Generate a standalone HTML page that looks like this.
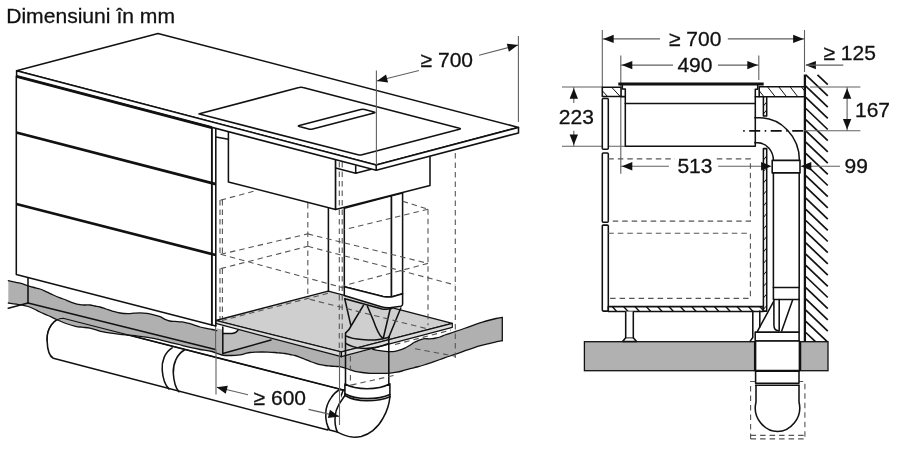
<!DOCTYPE html>
<html><head><meta charset="utf-8"><title>Dimensiuni</title>
<style>
html,body{margin:0;padding:0;background:#fff;}
body{width:900px;height:450px;overflow:hidden;font-family:"Liberation Sans",sans-serif;}
svg{display:block;will-change:transform;}
svg text{font-family:"Liberation Sans",sans-serif;fill:#111;stroke:#111;stroke-width:0.3;}
.m{stroke:#111;stroke-width:1.55;fill:none;stroke-linecap:round;stroke-linejoin:round;}
.w{stroke:#111;stroke-width:1.55;fill:#fff;stroke-linejoin:round;}
.wn{stroke:#111;stroke-width:1.55;fill:none;stroke-linejoin:round;stroke-linecap:round;}
.k{stroke:#111;stroke-width:2.8;fill:none;stroke-linecap:butt;}
.t{stroke:#606060;stroke-width:1.1;fill:none;}
.a{fill:#111;stroke:none;}
.d{stroke:#555;stroke-width:1.1;fill:none;stroke-dasharray:5.5 4;}
.h{stroke:#111;stroke-width:1.7;fill:none;}
.hh{stroke:#111;stroke-width:1;fill:none;}
.hb{stroke:#111;stroke-width:1.4;fill:none;}
.wall{stroke:#111;stroke-width:2.3;fill:none;}
.fl{fill:#b0b0b0;stroke:#111;stroke-width:1.2;stroke-linejoin:round;}
.fr{fill:#b1b1b1;stroke:#111;stroke-width:1.3;}
.fln{fill:#b0b0b0;stroke:none;}
.pl{fill:#cfcfcf;stroke:#111;stroke-width:1.3;stroke-linejoin:round;}
.pl2{fill:#dcdcdc;stroke:#111;stroke-width:1.2;stroke-linejoin:round;}
.cd{stroke:#111;stroke-width:1.7;fill:none;stroke-dasharray:1.5 4.5 11 4.5;}
</style></head>
<body>
<svg width="900" height="450" viewBox="0 0 900 450">
<rect x="0" y="0" width="900" height="450" fill="#fff"/>
<text x="6.2" y="23" font-size="21.1" text-anchor="start">Dimensiuni în mm</text>
<path class="w" d="M63.1,318.3 C54,318.3 46.5,328 47.1,340.6 C47.4,350 50,356.5 53.3,358.3 L327.8,430 L343.3,390 Z" />
<path class="wn" d="M172.2,347.8 C165,352 161.5,361 162.2,370 C162.8,378 165.5,385.5 168.9,388.9" />
<path class="wn" d="M184.4,350 C177,354 172.8,364 173.3,373.3 C173.8,381.5 176,388.5 178.9,391.8" />
<path class="fln" d="M8.3,280.7 C9.58,280.97 13.72,281.80 16,282.3 C18.28,282.80 20.00,283.12 22,283.7 C24.00,284.28 26.00,285.17 28,285.8 C30.00,286.43 32.00,286.97 34,287.5 C36.00,288.03 37.92,288.28 40,289 C42.08,289.72 44.28,290.80 46.5,291.8 C48.72,292.80 51.05,294.00 53.3,295 C55.55,296.00 57.77,296.92 60,297.8 C62.23,298.68 64.53,299.47 66.7,300.3 C68.87,301.13 70.78,302.07 73,302.8 C75.22,303.53 78.00,304.33 80,304.7 C82.00,305.07 83.33,304.95 85,305 C86.67,305.05 88.33,304.83 90,305 C91.67,305.17 93.33,305.67 95,306 C96.67,306.33 98.17,306.50 100,307 C101.83,307.50 103.83,308.28 106,309 C108.17,309.72 110.67,310.63 113,311.3 C115.33,311.97 117.50,312.62 120,313 C122.50,313.38 125.67,313.57 128,313.6 C130.33,313.63 132.00,313.32 134,313.2 C136.00,313.08 137.83,312.88 140,312.9 C142.17,312.92 144.70,312.98 147,313.3 C149.30,313.62 151.63,314.23 153.8,314.8 C155.97,315.37 158.13,315.95 160,316.7 C161.87,317.45 163.37,318.58 165,319.3 C166.63,320.02 168.13,320.65 169.8,321 C171.47,321.35 172.93,321.25 175,321.4 C177.07,321.55 180.03,321.60 182.2,321.9 C184.37,322.20 185.87,322.63 188,323.2 C190.13,323.77 193.00,324.67 195,325.3 C197.00,325.93 198.33,326.52 200,327 C201.67,327.48 203.00,327.78 205,328.2 C207.00,328.62 210.05,329.10 212,329.5 C213.95,329.90 215.92,330.42 216.7,330.6 L215.8,323.4 L341.3,356.7 L372.7,349.3 C373.92,349.52 377.45,350.22 380,350.6 C382.55,350.98 385.50,351.48 388,351.6 C390.50,351.72 392.67,351.68 395,351.3 C397.33,350.92 400.17,349.93 402,349.3 C403.83,348.67 404.67,348.17 406,347.5 C407.33,346.83 408.67,346.13 410,345.3 C411.33,344.47 412.67,343.27 414,342.5 C415.33,341.73 416.75,341.22 418,340.7 C419.25,340.18 420.33,339.73 421.5,339.4 C422.67,339.07 423.83,338.80 425,338.7 C426.17,338.60 427.33,338.80 428.5,338.8 C429.67,338.80 430.75,338.83 432,338.7 C433.25,338.57 434.67,338.28 436,338 C437.33,337.72 438.50,337.50 440,337 C441.50,336.50 443.33,335.62 445,335 C446.67,334.38 448.33,333.85 450,333.3 C451.67,332.75 453.33,332.25 455,331.7 C456.67,331.15 457.92,330.73 460,330 C462.08,329.27 465.00,328.18 467.5,327.3 C470.00,326.42 472.50,325.55 475,324.7 C477.50,323.85 480.00,322.98 482.5,322.2 C485.00,321.42 487.75,320.62 490,320 C492.25,319.38 493.95,318.95 496,318.5 C498.05,318.05 501.25,317.50 502.3,317.3 L502.3,340.7 C501.25,340.88 498.05,341.37 496,341.8 C493.95,342.23 492.25,342.73 490,343.3 C487.75,343.87 485.00,344.53 482.5,345.2 C480.00,345.87 477.50,346.52 475,347.3 C472.50,348.08 470.00,349.00 467.5,349.9 C465.00,350.80 462.08,351.95 460,352.7 C457.92,353.45 456.67,353.85 455,354.4 C453.33,354.95 451.67,355.45 450,356 C448.33,356.55 446.67,357.12 445,357.7 C443.33,358.28 442.17,358.73 440,359.5 C437.83,360.27 434.67,361.38 432,362.3 C429.33,363.22 426.50,364.22 424,365 C421.50,365.78 419.33,366.38 417,367 C414.67,367.62 412.50,368.03 410,368.7 C407.50,369.37 404.50,370.38 402,371 C399.50,371.62 397.00,372.05 395,372.4 C393.00,372.75 391.67,372.95 390,373.1 C388.33,373.25 387.17,373.25 385,373.3 C382.83,373.35 379.50,373.40 377,373.4 C374.50,373.40 372.50,373.45 370,373.3 C367.50,373.15 364.50,372.83 362,372.5 C359.50,372.17 357.00,371.77 355,371.3 C353.00,370.83 351.67,370.25 350,369.7 C348.33,369.15 346.67,368.50 345,368 C343.33,367.50 341.67,366.97 340,366.7 C338.33,366.43 336.67,366.52 335,366.4 C333.33,366.28 331.67,366.15 330,366 C328.33,365.85 326.67,365.72 325,365.5 C323.33,365.28 321.67,365.08 320,364.7 C318.33,364.32 316.67,363.77 315,363.2 C313.33,362.63 311.67,361.95 310,361.3 C308.33,360.65 306.67,359.97 305,359.3 C303.33,358.63 301.67,357.93 300,357.3 C298.33,356.67 296.67,355.97 295,355.5 C293.33,355.03 291.67,354.83 290,354.5 C288.33,354.17 286.67,353.75 285,353.5 C283.33,353.25 281.67,353.17 280,353 C278.33,352.83 277.00,352.65 275,352.5 C273.00,352.35 270.17,352.18 268,352.1 C265.83,352.02 264.00,352.00 262,352 C260.00,352.00 258.00,352.02 256,352.1 C254.00,352.18 251.83,352.23 250,352.5 C248.17,352.77 246.67,353.32 245,353.7 C243.33,354.08 242.33,354.50 240,354.8 C237.67,355.10 234.00,355.47 231,355.5 C228.00,355.53 225.17,355.67 222,355 C218.83,354.33 215.67,352.42 212,351.5 C208.33,350.58 203.48,350.13 200,349.5 C196.52,348.87 194.10,348.40 191.1,347.7 C188.10,347.00 184.97,346.05 182,345.3 C179.03,344.55 176.30,343.95 173.3,343.2 C170.30,342.45 166.95,341.53 164,340.8 C161.05,340.07 158.60,339.40 155.6,338.8 C152.60,338.20 148.97,337.65 146,337.2 C143.03,336.75 140.63,336.43 137.8,336.1 C134.97,335.77 131.97,335.50 129,335.2 C126.03,334.90 123.00,334.63 120,334.3 C117.00,333.97 113.97,333.63 111,333.2 C108.03,332.77 104.70,332.27 102.2,331.7 C99.70,331.13 98.07,330.40 96,329.8 C93.93,329.20 92.13,328.53 89.8,328.1 C87.47,327.67 84.37,327.50 82,327.2 C79.63,326.90 78.27,326.92 75.6,326.3 C72.93,325.68 68.97,324.55 66,323.5 C63.03,322.45 60.80,321.33 57.8,320 C54.80,318.67 50.97,316.83 48,315.5 C45.03,314.17 42.33,313.08 40,312 C37.67,310.92 36.00,309.92 34,309 C32.00,308.08 30.33,307.22 28,306.5 C25.67,305.78 23.28,305.28 20,304.7 C16.72,304.12 10.25,303.28 8.3,303 Z" />
<path class="wn" d="M8.3,280.7 C9.58,280.97 13.72,281.80 16,282.3 C18.28,282.80 20.00,283.12 22,283.7 C24.00,284.28 26.00,285.17 28,285.8 C30.00,286.43 32.00,286.97 34,287.5 C36.00,288.03 37.92,288.28 40,289 C42.08,289.72 44.28,290.80 46.5,291.8 C48.72,292.80 51.05,294.00 53.3,295 C55.55,296.00 57.77,296.92 60,297.8 C62.23,298.68 64.53,299.47 66.7,300.3 C68.87,301.13 70.78,302.07 73,302.8 C75.22,303.53 78.00,304.33 80,304.7 C82.00,305.07 83.33,304.95 85,305 C86.67,305.05 88.33,304.83 90,305 C91.67,305.17 93.33,305.67 95,306 C96.67,306.33 98.17,306.50 100,307 C101.83,307.50 103.83,308.28 106,309 C108.17,309.72 110.67,310.63 113,311.3 C115.33,311.97 117.50,312.62 120,313 C122.50,313.38 125.67,313.57 128,313.6 C130.33,313.63 132.00,313.32 134,313.2 C136.00,313.08 137.83,312.88 140,312.9 C142.17,312.92 144.70,312.98 147,313.3 C149.30,313.62 151.63,314.23 153.8,314.8 C155.97,315.37 158.13,315.95 160,316.7 C161.87,317.45 163.37,318.58 165,319.3 C166.63,320.02 168.13,320.65 169.8,321 C171.47,321.35 172.93,321.25 175,321.4 C177.07,321.55 180.03,321.60 182.2,321.9 C184.37,322.20 185.87,322.63 188,323.2 C190.13,323.77 193.00,324.67 195,325.3 C197.00,325.93 198.33,326.52 200,327 C201.67,327.48 203.00,327.78 205,328.2 C207.00,328.62 210.05,329.10 212,329.5 C213.95,329.90 215.92,330.42 216.7,330.6" style="stroke-width:1.3"/>
<path class="wn" d="M372.7,349.3 C373.92,349.52 377.45,350.22 380,350.6 C382.55,350.98 385.50,351.48 388,351.6 C390.50,351.72 392.67,351.68 395,351.3 C397.33,350.92 400.17,349.93 402,349.3 C403.83,348.67 404.67,348.17 406,347.5 C407.33,346.83 408.67,346.13 410,345.3 C411.33,344.47 412.67,343.27 414,342.5 C415.33,341.73 416.75,341.22 418,340.7 C419.25,340.18 420.33,339.73 421.5,339.4 C422.67,339.07 423.83,338.80 425,338.7 C426.17,338.60 427.33,338.80 428.5,338.8 C429.67,338.80 430.75,338.83 432,338.7 C433.25,338.57 434.67,338.28 436,338 C437.33,337.72 438.50,337.50 440,337 C441.50,336.50 443.33,335.62 445,335 C446.67,334.38 448.33,333.85 450,333.3 C451.67,332.75 453.33,332.25 455,331.7 C456.67,331.15 457.92,330.73 460,330 C462.08,329.27 465.00,328.18 467.5,327.3 C470.00,326.42 472.50,325.55 475,324.7 C477.50,323.85 480.00,322.98 482.5,322.2 C485.00,321.42 487.75,320.62 490,320 C492.25,319.38 493.95,318.95 496,318.5 C498.05,318.05 501.25,317.50 502.3,317.3" style="stroke-width:1.3"/>
<path class="wn" d="M502.3,340.7 C501.25,340.88 498.05,341.37 496,341.8 C493.95,342.23 492.25,342.73 490,343.3 C487.75,343.87 485.00,344.53 482.5,345.2 C480.00,345.87 477.50,346.52 475,347.3 C472.50,348.08 470.00,349.00 467.5,349.9 C465.00,350.80 462.08,351.95 460,352.7 C457.92,353.45 456.67,353.85 455,354.4 C453.33,354.95 451.67,355.45 450,356 C448.33,356.55 446.67,357.12 445,357.7 C443.33,358.28 442.17,358.73 440,359.5 C437.83,360.27 434.67,361.38 432,362.3 C429.33,363.22 426.50,364.22 424,365 C421.50,365.78 419.33,366.38 417,367 C414.67,367.62 412.50,368.03 410,368.7 C407.50,369.37 404.50,370.38 402,371 C399.50,371.62 397.00,372.05 395,372.4 C393.00,372.75 391.67,372.95 390,373.1 C388.33,373.25 387.17,373.25 385,373.3 C382.83,373.35 379.50,373.40 377,373.4 C374.50,373.40 372.50,373.45 370,373.3 C367.50,373.15 364.50,372.83 362,372.5 C359.50,372.17 357.00,371.77 355,371.3 C353.00,370.83 351.67,370.25 350,369.7 C348.33,369.15 346.67,368.50 345,368 C343.33,367.50 341.67,366.97 340,366.7 C338.33,366.43 336.67,366.52 335,366.4 C333.33,366.28 331.67,366.15 330,366 C328.33,365.85 326.67,365.72 325,365.5 C323.33,365.28 321.67,365.08 320,364.7 C318.33,364.32 316.67,363.77 315,363.2 C313.33,362.63 311.67,361.95 310,361.3 C308.33,360.65 306.67,359.97 305,359.3 C303.33,358.63 301.67,357.93 300,357.3 C298.33,356.67 296.67,355.97 295,355.5 C293.33,355.03 291.67,354.83 290,354.5 C288.33,354.17 286.67,353.75 285,353.5 C283.33,353.25 281.67,353.17 280,353 C278.33,352.83 277.00,352.65 275,352.5 C273.00,352.35 270.17,352.18 268,352.1 C265.83,352.02 264.00,352.00 262,352 C260.00,352.00 258.00,352.02 256,352.1 C254.00,352.18 251.83,352.23 250,352.5 C248.17,352.77 246.67,353.32 245,353.7 C243.33,354.08 242.33,354.50 240,354.8 C237.67,355.10 234.00,355.47 231,355.5 C228.00,355.53 225.17,355.67 222,355 C218.83,354.33 215.67,352.42 212,351.5 C208.33,350.58 203.48,350.13 200,349.5 C196.52,348.87 194.10,348.40 191.1,347.7 C188.10,347.00 184.97,346.05 182,345.3 C179.03,344.55 176.30,343.95 173.3,343.2 C170.30,342.45 166.95,341.53 164,340.8 C161.05,340.07 158.60,339.40 155.6,338.8 C152.60,338.20 148.97,337.65 146,337.2 C143.03,336.75 140.63,336.43 137.8,336.1 C134.97,335.77 131.97,335.50 129,335.2 C126.03,334.90 123.00,334.63 120,334.3 C117.00,333.97 113.97,333.63 111,333.2 C108.03,332.77 104.70,332.27 102.2,331.7 C99.70,331.13 98.07,330.40 96,329.8 C93.93,329.20 92.13,328.53 89.8,328.1 C87.47,327.67 84.37,327.50 82,327.2 C79.63,326.90 78.27,326.92 75.6,326.3 C72.93,325.68 68.97,324.55 66,323.5 C63.03,322.45 60.80,321.33 57.8,320 C54.80,318.67 50.97,316.83 48,315.5 C45.03,314.17 42.33,313.08 40,312 C37.67,310.92 36.00,309.92 34,309 C32.00,308.08 30.33,307.22 28,306.5 C25.67,305.78 23.28,305.28 20,304.7 C16.72,304.12 10.25,303.28 8.3,303" style="stroke-width:1.3"/>
<line class="m" x1="502.3" y1="317.3" x2="502.3" y2="340.7" style="stroke-width:1.3"/>
<line class="m" x1="28" y1="303" x2="215.5" y2="349.5" />
<line class="m" x1="8.3" y1="308.3" x2="28" y2="303" />
<line class="m" x1="28" y1="277.7" x2="28" y2="303" />
<polygon class="fln" points="222.8,324 271,337.5 271,340 222.8,353.5" style="fill:#bebebe"/>
<path class="fln" d="M215.8,322.5 L238.5,329 C237.5,331.5 236,333 232,333.6 L222.8,333.5 L222.8,329.5 L215.8,328.2 Z" style="fill:#fff"/>
<path class="wn" d="M222.8,333.5 L232,333.6 C236,333 237.5,331.5 238.5,329" />
<line class="m" x1="222.8" y1="327" x2="222.8" y2="353.5" />
<line class="m" x1="222.8" y1="353.5" x2="271" y2="340" />
<line class="t" x1="215.6" y1="326.5" x2="215.6" y2="350" />
<path class="wn" d="M47.1,340.6 C46.5,328 54,318.3 63.1,318.3 L343.3,390" style="stroke-width:1.1"/>
<polygon class="pl" points="215.8,320.5 328.2,291.1 452.3,323.3 341.3,352" />
<polygon class="pl2" points="215.8,320.5 341.3,352 452.3,323.3 452.3,327.3 341.3,356.7 215.8,323.4" />
<line class="m" x1="341.3" y1="352" x2="341.3" y2="356.7" />
<polygon class="w" points="344.3,208.2 391.5,195.7 391.5,296.9 383,296.4 344.3,286.7" />
<polygon class="w" points="391.5,195.7 402.6,192.9 402.6,293.8 391.5,296.9" />
<line class="m" x1="328.4" y1="208" x2="328.4" y2="291" />
<path class="w" d="M344.3,286.7 L383,296.4 Q387,297.3 391.5,296.9 L402.6,293.8 L402.6,304.3 Q402.6,305.6 401,306.2 L391.5,307.6 Q386,308.3 381.2,306.7 L344.3,295.6 Z" />
<path class="wn" d="M344.8,298.7 L382.1,308.9 Q387,309.6 391.9,308.4" />
<path class="wn" d="M344.8,299 L351,326.1 M363.4,305.3 L354.6,320 L351,326.1 C349.5,329.5 347.5,331.5 345.7,332.8 M367.4,306.2 L373.2,320 C376,328 378.5,334.5 382.1,337.7 M390.1,309.3 L383.4,337.7 M400.8,308 L389.2,336.3" />
<path class="wn" d="M345.5,333 L345.5,395 M388.8,336.5 L388.8,395" />
<path class="wn" d="M345.7,335.9 C350,338 356,339.2 361.7,339.4 C367,339.8 371,340 375,339.9 C381,339.5 385,338.5 389.2,337.2" />
<path class="wn" d="M345.7,343.4 C350,346 356,347.8 361.7,348.3 C369,348.8 380,347 388.8,343.5" />
<line class="d" x1="220.7" y1="200.1" x2="255.3" y2="190.8" />
<line class="d" x1="220" y1="200.1" x2="220" y2="254.3" />
<line class="d" x1="222.4" y1="200.1" x2="222.4" y2="254.3" />
<line class="d" x1="220" y1="268.6" x2="220" y2="319" />
<line class="d" x1="222.4" y1="268.6" x2="222.4" y2="318" />
<line class="d" x1="220.7" y1="254.3" x2="307.8" y2="233.9" />
<line class="d" x1="220.7" y1="268.6" x2="307.8" y2="246.3" />
<line class="d" x1="307.8" y1="203" x2="307.8" y2="296" />
<line class="d" x1="220.7" y1="254.3" x2="344" y2="288" />
<line class="d" x1="307.8" y1="233.9" x2="428" y2="263.4" />
<line class="d" x1="307.8" y1="246.3" x2="455.3" y2="285" />
<line class="d" x1="428" y1="263.4" x2="344.1" y2="285.5" />
<line class="d" x1="402.6" y1="201.2" x2="428" y2="209.2" />
<line class="d" x1="428" y1="209.2" x2="344.1" y2="229.7" />
<line class="d" x1="428" y1="209.2" x2="428" y2="325.3" />
<line class="d" x1="455.3" y1="153" x2="455.3" y2="362" />
<line class="d" x1="328" y1="293.3" x2="222" y2="320.5" />
<line class="d" x1="309.6" y1="299.3" x2="428" y2="329" />
<line class="d" x1="395" y1="344.5" x2="451" y2="330" />
<line class="d" x1="415" y1="348.7" x2="455.3" y2="356.2" />
<polygon class="w" points="228.4,130.8 335.6,158.5 335.6,209.4 228.4,181.9" />
<polygon class="w" points="335.6,158.5 430,154 430,185.6 335.6,209.4" />
<line class="d" x1="339.3" y1="162" x2="339.3" y2="352" />
<line class="d" x1="342.2" y1="162" x2="342.2" y2="352" />
<path class="wn" d="M335.6,168 L355.7,173.2 L355.7,166 M355.7,173.2 L376,168" />
<polygon class="w" points="16.3,76.3 211.8,127.6 211.8,325 16.3,274.6" />
<line class="m" x1="215.8" y1="128.7" x2="215.8" y2="325.9" />
<line class="m" x1="211.8" y1="325" x2="215.8" y2="325.9" />
<line class="m" x1="215.8" y1="137" x2="228.4" y2="139.2" />
<line class="k" x1="16.3" y1="132.5" x2="215.8" y2="184.1" />
<line class="k" x1="16.3" y1="204" x2="215.8" y2="255" />
<line class="m" x1="211.8" y1="127.6" x2="211.8" y2="325" style="stroke-width:1.7"/>
<polygon class="w" points="16.6,70.7 158,33.5 518.5,127.4 376.2,165" />
<polygon class="w" points="16.6,70.7 376.2,165 518.5,127.4 518.5,132.9 376.2,170.3 16.6,76.3" />
<line class="m" x1="376.2" y1="165" x2="376.2" y2="170.3" />
<line class="k" x1="16.6" y1="76.3" x2="211.8" y2="127.6" />
<path class="w" d="M199.4,113.7 L299,87.6 Q301,87 303,87.6 L459.4,128.2 Q461.4,128.7 459.4,129.2 L362,154.8 Q360,155.3 358,154.8 L199.4,114.1 Q198.4,113.9 199.4,113.7 Z" />
<path class="w" d="M299.3,125.5 L360.7,109.6 Q362.7,109.1 364.7,109.6 L374,111.9 Q376,112.4 374,112.9 L312.7,129.1 Q310.7,129.6 308.7,129.1 L299.3,126.6 Q297.3,126 299.3,125.5 Z" />
<line class="t" x1="376.4" y1="70.5" x2="376.4" y2="165" />
<line class="t" x1="518.4" y1="36" x2="518.4" y2="122" />
<line class="t" x1="377" y1="81" x2="419" y2="70.5" />
<polygon class="a" points="376.9,81.0 386.07,74.38 388.11,82.53" />
<line class="t" x1="479" y1="55.3" x2="518" y2="45" />
<polygon class="a" points="518,45.1 508.89,51.81 506.78,43.68" />
<text x="420.6" y="66.8" font-size="21" text-anchor="start">≥ 700</text>
<path class="w" d="M344.9,384 L344.9,395.5 C343.5,397.5 342.5,399 341.7,400.3 L339.6,389.5 C332,394 326,403 325.8,412.6 C325.8,419 327.3,425 329.5,429.9 L337.4,432.1 C342,434.3 347,436.5 352.6,437.1 C355.5,437.3 358.5,437 361.2,436.4 C365.5,435.3 369.5,433.3 372.8,430.6 C377,427.2 380.5,423 382.9,418.4 C385,414.8 386.8,411 388,406.8 C389,403.5 389.6,400 389.9,396.7 L389.9,383.7 Z" style="stroke:none"/>
<path class="wn" d="M344.9,384 C351,387.3 359,388.7 367,388.7 C375,388.7 384,387 389.9,383.7 L389.9,396.7 M344.9,384 L344.9,395.5" />
<path class="wn" d="M344.9,393.8 C351,397.2 359,398.6 367,398.6 C375,398.6 384,397.3 389.9,394.5" />
<path class="wn" d="M344.9,395.5 C351,399.2 359,400.7 367,400.7 C375,400.7 384,399.4 389.9,396.7" />
<path class="wn" d="M389.9,396.7 C389.6,400 389,403.5 388,406.8 C386.8,411 385,414.8 382.9,418.4 C380.5,423 377,427.2 372.8,430.6 C369.5,433.3 365.5,435.3 361.2,436.4 C358.5,437 355.5,437.3 352.6,437.1 C347,436.5 342,434.3 337.4,432.1" />
<path class="wn" d="M344.9,395.5 C343.5,397.5 342.5,399 341.7,400.3 C340,402.5 339,404.3 338.1,406.1 C336.5,409 335.5,412 335.2,415.5 C334.9,418.5 334.9,421 335.2,424.1 C335.6,427 336.3,429.8 337.4,432.1" />
<path class="wn" d="M344.6,390.2 L339.6,389.5 C335.5,391.8 333,394.8 330.9,398.1 C327.8,402.5 326,407.5 325.8,412.6 C325.6,416 325.9,419.5 326.6,422.7 C327.3,425.5 328.3,427.8 329.5,429.9 L337.4,432.1" />
<line class="d" x1="350.4" y1="356" x2="350.4" y2="385" />
<line class="d" x1="351.1" y1="385.1" x2="396" y2="375" />
<line class="t" x1="216" y1="350" x2="216" y2="394.6" />
<line class="t" x1="339.5" y1="352" x2="339.5" y2="425" />
<line class="t" x1="217" y1="387.3" x2="248" y2="394.8" />
<polygon class="a" points="216.6,387.2 227.81,385.67 225.77,393.82" />
<line class="t" x1="308.5" y1="409.4" x2="339" y2="416.4" />
<polygon class="a" points="339.1,416.4 327.89,417.93 329.93,409.78" />
<text x="253.6" y="404.8" font-size="21" text-anchor="start">≥ 600</text>
<rect class="fr" x="584.4" y="341.7" width="170.2" height="29" />
<rect class="fr" x="800.6" y="341.7" width="27.4" height="29" />
<line class="h" x1="817.5" y1="74.9" x2="827.8" y2="84.7" />
<line class="h" x1="805.8" y1="74.9" x2="827.8" y2="95.9" />
<line class="h" x1="805.8" y1="86.1" x2="827.8" y2="107.1" />
<line class="h" x1="805.8" y1="97.3" x2="827.8" y2="118.3" />
<line class="h" x1="805.8" y1="108.5" x2="827.8" y2="129.5" />
<line class="h" x1="805.8" y1="119.7" x2="827.8" y2="140.7" />
<line class="h" x1="805.8" y1="130.9" x2="827.8" y2="151.9" />
<line class="h" x1="805.8" y1="142.1" x2="827.8" y2="163.1" />
<line class="h" x1="805.8" y1="153.3" x2="827.8" y2="174.3" />
<line class="h" x1="805.8" y1="164.5" x2="827.8" y2="185.5" />
<line class="h" x1="805.8" y1="175.7" x2="827.8" y2="196.7" />
<line class="h" x1="805.8" y1="186.9" x2="827.8" y2="207.9" />
<line class="h" x1="805.8" y1="198.1" x2="827.8" y2="219.1" />
<line class="h" x1="805.8" y1="209.3" x2="827.8" y2="230.3" />
<line class="h" x1="805.8" y1="220.5" x2="827.8" y2="241.5" />
<line class="h" x1="805.8" y1="231.7" x2="827.8" y2="252.7" />
<line class="h" x1="805.8" y1="242.9" x2="827.8" y2="263.9" />
<line class="h" x1="805.8" y1="254.1" x2="827.8" y2="275.1" />
<line class="h" x1="805.8" y1="265.3" x2="827.8" y2="286.3" />
<line class="h" x1="805.8" y1="276.5" x2="827.8" y2="297.5" />
<line class="h" x1="805.8" y1="287.7" x2="827.8" y2="308.7" />
<line class="h" x1="805.8" y1="298.9" x2="827.8" y2="319.9" />
<line class="h" x1="805.8" y1="310.1" x2="827.8" y2="331.1" />
<line class="h" x1="805.8" y1="321.3" x2="827.2" y2="341.7" />
<line class="h" x1="805.8" y1="332.5" x2="815.4" y2="341.7" />
<line class="wall" x1="804.9" y1="74.5" x2="804.9" y2="341.7" />
<line class="t" x1="602.3" y1="30" x2="602.3" y2="87" />
<line class="t" x1="804.5" y1="30" x2="804.5" y2="72" />
<line class="t" x1="602.3" y1="38.9" x2="660" y2="38.9" />
<line class="t" x1="727.8" y1="38.9" x2="804.4" y2="38.9" />
<polygon class="a" points="603.2,38.9 613.7,34.7 613.7,43.1" />
<polygon class="a" points="803.6,38.9 793.1,43.1 793.1,34.7" />
<text x="669" y="45.6" font-size="21" text-anchor="start">≥ 700</text>
<line class="t" x1="620.8" y1="55.6" x2="620.8" y2="173.8" />
<line class="t" x1="758.8" y1="55.6" x2="758.8" y2="80" />
<line class="t" x1="620.8" y1="65.1" x2="673" y2="65.1" />
<line class="t" x1="718" y1="65.1" x2="758.8" y2="65.1" />
<polygon class="a" points="621.8,65.1 632.3,60.9 632.3,69.3" />
<polygon class="a" points="757.8,65.1 747.3,69.3 747.3,60.9" />
<text x="677.4" y="71.7" font-size="21" text-anchor="start">490</text>
<polygon class="a" points="805.4,65.1 815.9,60.9 815.9,69.3" />
<line class="t" x1="806" y1="65.1" x2="843.3" y2="65.1" />
<text x="823.5" y="59.8" font-size="21" text-anchor="start">≥ 125</text>
<line class="t" x1="562" y1="87" x2="602.3" y2="87" />
<line class="t" x1="562" y1="146.2" x2="625" y2="146.2" />
<line class="t" x1="573.8" y1="87" x2="573.8" y2="103" />
<line class="t" x1="573.8" y1="130.7" x2="573.8" y2="146.2" />
<polygon class="a" points="573.8,88.2 578.0,98.7 569.6,98.7" />
<polygon class="a" points="573.8,145 569.6,134.5 578.0,134.5" />
<text x="558.8" y="123.5" font-size="21" text-anchor="start">223</text>
<line class="t" x1="810" y1="87" x2="860.4" y2="87" />
<line class="t" x1="804" y1="130.7" x2="860.4" y2="130.7" />
<line class="t" x1="847.1" y1="87" x2="847.1" y2="130.7" />
<polygon class="a" points="847.1,88.2 851.3,98.7 842.9,98.7" />
<polygon class="a" points="847.1,129.5 842.9,119.0 851.3,119.0" />
<text x="855" y="116.9" font-size="21" text-anchor="start">167</text>
<line class="t" x1="620.8" y1="166.2" x2="668.9" y2="166.2" />
<line class="t" x1="718.2" y1="166.2" x2="762" y2="166.2" />
<polygon class="a" points="621.8,166.2 632.3,162.0 632.3,170.4" />
<text x="677.4" y="173.1" font-size="21" text-anchor="start">513</text>
<line class="t" x1="801" y1="166.2" x2="840" y2="166.2" />
<text x="844.6" y="173.1" font-size="21" text-anchor="start">99</text>
<rect class="w" x="602.3" y="87.2" width="18.7" height="9.3" />
<line class="hh" x1="602.3" y1="90.77" x2="607.6" y2="96.5" />
<line class="hh" x1="611.6" y1="87.2" x2="620.2" y2="96.5" />
<rect class="w" x="759.2" y="86.7" width="45.3" height="10" />
<line class="hh" x1="759.2" y1="90.67" x2="763.9" y2="96.7" />
<line class="hh" x1="767.4" y1="86.7" x2="775.2" y2="96.7" />
<line class="hh" x1="778.7" y1="86.7" x2="786.5" y2="96.7" />
<line class="hh" x1="790.0" y1="86.7" x2="797.8" y2="96.7" />
<line class="hh" x1="801.3" y1="86.7" x2="804.5" y2="90.8" />
<line class="m" x1="618.3" y1="84.0" x2="763.7" y2="84.0" style="stroke-width:3;stroke-linecap:butt"/>
<polyline class="wn" points="622.3,85 622.3,89 625.3,89 625.3,146.2 755.3,146.2 755.3,89.2 757.7,89.2 757.7,85" />
<line class="m" x1="625.3" y1="103.4" x2="755.3" y2="103.4" />
<line class="m" x1="621" y1="96.6" x2="625.3" y2="96.6" />
<line class="m" x1="755.3" y1="96.8" x2="759.2" y2="96.8" />
<rect class="w" x="602.3" y="98.4" width="6" height="50.900000000000006" rx="1"/>
<rect class="w" x="602.3" y="152.9" width="6" height="69.29999999999998" rx="1"/>
<rect class="w" x="602.3" y="225.1" width="6" height="86.00000000000003" rx="1"/>
<rect class="w" x="608.3" y="306.6" width="155" height="4.8" />
<line class="hb" x1="612.2" y1="306.6" x2="616.7" y2="311.4" />
<line class="hb" x1="623.55" y1="306.6" x2="628.05" y2="311.4" />
<line class="hb" x1="634.9" y1="306.6" x2="639.4" y2="311.4" />
<line class="hb" x1="646.25" y1="306.6" x2="650.75" y2="311.4" />
<line class="hb" x1="657.6" y1="306.6" x2="662.1" y2="311.4" />
<line class="hb" x1="668.95" y1="306.6" x2="673.45" y2="311.4" />
<line class="hb" x1="680.3" y1="306.6" x2="684.8" y2="311.4" />
<line class="hb" x1="691.65" y1="306.6" x2="696.15" y2="311.4" />
<line class="hb" x1="703.0" y1="306.6" x2="707.5" y2="311.4" />
<line class="hb" x1="714.35" y1="306.6" x2="718.85" y2="311.4" />
<line class="hb" x1="725.7" y1="306.6" x2="730.2" y2="311.4" />
<line class="hb" x1="737.05" y1="306.6" x2="741.55" y2="311.4" />
<line class="hb" x1="748.4" y1="306.6" x2="752.9" y2="311.4" />
<line class="hb" x1="759.75" y1="306.6" x2="763.3" y2="310.39" />
<rect class="w" x="763.4" y="96.8" width="3.3" height="19.2" />
<line class="hh" x1="763.4" y1="106" x2="766.7" y2="102" />
<line class="hh" x1="763.4" y1="114" x2="766.7" y2="110" />
<rect class="w" x="763.4" y="148.6" width="3.3" height="162.5" />
<line class="hh" x1="763.4" y1="160.0" x2="766.7" y2="156.0" />
<line class="hh" x1="763.4" y1="171.5" x2="766.7" y2="167.5" />
<line class="hh" x1="763.4" y1="183.0" x2="766.7" y2="179.0" />
<line class="hh" x1="763.4" y1="194.5" x2="766.7" y2="190.5" />
<line class="hh" x1="763.4" y1="206.0" x2="766.7" y2="202.0" />
<line class="hh" x1="763.4" y1="217.5" x2="766.7" y2="213.5" />
<line class="hh" x1="763.4" y1="229.0" x2="766.7" y2="225.0" />
<line class="hh" x1="763.4" y1="240.5" x2="766.7" y2="236.5" />
<line class="hh" x1="763.4" y1="252.0" x2="766.7" y2="248.0" />
<line class="hh" x1="763.4" y1="263.5" x2="766.7" y2="259.5" />
<line class="hh" x1="763.4" y1="275.0" x2="766.7" y2="271.0" />
<line class="hh" x1="763.4" y1="286.5" x2="766.7" y2="282.5" />
<line class="hh" x1="763.4" y1="298.0" x2="766.7" y2="294.0" />
<line class="hh" x1="763.4" y1="309.5" x2="766.7" y2="305.5" />
<line class="d" x1="608.3" y1="158.9" x2="675" y2="158.9" />
<polyline class="d" points="716.8,158.9 750.4,158.9 750.4,221.1 608.3,221.1" />
<polyline class="d" points="608.3,233.3 750.4,233.3 750.4,298.4 608.3,298.4" />
<path class="wn" d="M754.8,117.7 L759,117.7 A40.4,42.5 0 0 1 799.4,160.2" style="stroke-width:1.5"/>
<path class="wn" d="M754.8,142.8 L757.5,142.8 A15.9,17.4 0 0 1 773.4,160.2" style="stroke-width:1.5"/>
<line class="cd" x1="743.2" y1="130.8" x2="804" y2="130.8" />
<rect class="w" x="772.2" y="160.4" width="27.8" height="12.5" style="stroke-width:1.6"/>
<line class="m" x1="773.4" y1="172.9" x2="773.4" y2="287.5" />
<line class="m" x1="799.2" y1="172.9" x2="799.2" y2="287.5" />
<rect class="w" x="773.4" y="287.5" width="25.7" height="11.9" />
<path class="wn" d="M773.4,301.8 L757.4,331.3" />
<line class="m" x1="799.1" y1="299.4" x2="799.1" y2="332" />
<path class="wn" d="M773.9,299.4 L773.9,325 Q774,330.5 778.3,330.8 L779.2,330.8 L779.2,299.4" />
<line class="m" x1="792.6" y1="300" x2="781.7" y2="331" />
<rect class="w" x="755.2" y="332.1" width="43.9" height="9" />
<path class="w" d="M625.7,311.4 L625.7,337.7 L622.6,341.5 L636.6,341.5 L633.3,337.7 L633.3,311.4" />
<line class="hh" x1="625.7" y1="337.9" x2="633.3" y2="337.9" />
<path class="wn" d="M752.8,311.1 L752.8,337.5 L750,341.4 M759.8,311.1 L759.8,327" />
<polyline class="d" points="750.6,438.9 750.6,381.5 804.9,381.5 804.9,438.9" />
<line class="d" x1="750.6" y1="435.4" x2="804.9" y2="435.4" />
<line class="d" x1="750.6" y1="438.9" x2="804.9" y2="438.9" />
<rect class="w" x="755.6" y="341.1" width="43.8" height="29.5" style="stroke-width:1.5"/>
<rect class="w" x="755.6" y="371.2" width="43.4" height="12" />
<line class="m" x1="755.6" y1="371.2" x2="799" y2="371.2" style="stroke-width:1.8"/>
<line class="m" x1="755.6" y1="385.3" x2="799" y2="385.3" />
<path class="wn" d="M756,385.3 L756,402 C752,418 765,431.5 777.5,431.5 C790,431.5 803,418 799,402 L799,385.3" />
<polygon class="a" points="771.6,166.2 761.1,170.4 761.1,162.0" />
<polygon class="a" points="800.8,166.2 811.3,162.0 811.3,170.4" />
</svg>
</body></html>
